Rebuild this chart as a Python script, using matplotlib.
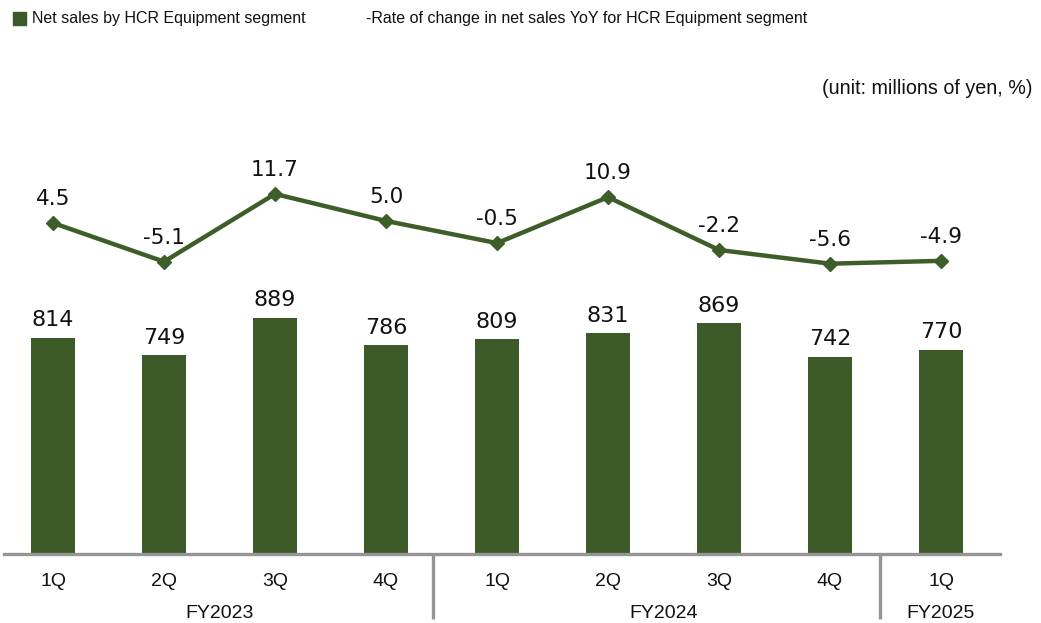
import matplotlib
matplotlib.use("Agg")
import matplotlib.pyplot as plt
from matplotlib.patches import Rectangle
import numpy as np

# Data
quarters = ["1Q", "2Q", "3Q", "4Q", "1Q", "2Q", "3Q", "4Q", "1Q"]
years = ["FY2023", "FY2024", "FY2025"]
year_spans = [(0, 3), (4, 7), (8, 8)]
net_sales = [814, 749, 889, 786, 809, 831, 869, 742, 770]
yoy_rate = [4.5, -5.1, 11.7, 5.0, -0.5, 10.9, -2.2, -5.6, -4.9]

W, H = 1041, 623
GREEN = "#3B5A27"
LINE_GREEN = "#3E5E29"
GRAY = "#959595"
TXT = "#111111"

fig = plt.figure(figsize=(W / 100, H / 100), dpi=100)

# axes placement in pixels
left_px, right_px, base_px, top_px = 4, 1000, 554, 60
ax = fig.add_axes([left_px / W, (H - base_px) / H,
                   (right_px - left_px) / W, (base_px - top_px) / H])
ax_h = base_px - top_px

x = np.arange(len(net_sales))
ax.set_xlim((left_px - 53) / 111, (right_px - 53) / 111)
ax.set_ylim(0, ax_h / 0.2655)

ax.bar(x, net_sales, width=0.39, color=GREEN, zorder=2)
for xi, v in zip(x, net_sales):
    ax.annotate(f"{v}", (xi, v), xytext=(0, 5.5), textcoords="offset points",
                ha="center", va="bottom", fontsize=16, family="DejaVu Sans",
                color=TXT)

for s in ["top", "right", "left"]:
    ax.spines[s].set_visible(False)
ax.spines["bottom"].set_color(GRAY)
ax.spines["bottom"].set_linewidth(2.4)
ax.set_yticks([])
ax.set_xticks([])

# line axis for YoY rate
ax2 = ax.twinx()
zero_px = 241.1
scale = 4.03
ax2.set_ylim(-(base_px - zero_px) / scale, (zero_px - top_px) / scale)
ax2.plot(x, yoy_rate, color=LINE_GREEN, lw=3.2, marker="D", markersize=7,
         zorder=3)
for xi, v in zip(x, yoy_rate):
    ax2.annotate(f"{v:.1f}", (xi, v), xytext=(0, 10), textcoords="offset points",
                 ha="center", va="bottom", fontsize=15.5, family="DejaVu Sans",
                 color=TXT)
ax2.axis("off")

# category labels
tr = ax.get_xaxis_transform()
for xi, q in zip(x, quarters):
    ax.text(xi, -(581 - base_px) / ax_h, q, transform=tr, ha="center",
            va="center", fontsize=14, family="Liberation Sans", color=TXT)
for (a, b), yr in zip(year_spans, years):
    ax.text((a + b) / 2, -(613 - base_px) / ax_h, yr, transform=tr,
            ha="center", va="center", fontsize=14, family="Liberation Sans",
            color=TXT)

# group separators
for sx in [3.42, 7.45]:
    ax.plot([sx, sx], [0, -(619 - base_px) / ax_h], transform=tr, color=GRAY,
            lw=2.4, clip_on=False, solid_capstyle="butt")

# legend and unit note
fig.patches.append(Rectangle((13 / W, 1 - 25 / H), 13 / W, 12.5 / H,
                             transform=fig.transFigure, color=GREEN))
fig.text(32 / W, 1 - 19 / H, "Net sales by HCR Equipment segment",
         ha="left", va="center", fontsize=11.5, family="Liberation Sans",
         color=TXT)
fig.text(366 / W, 1 - 19 / H,
         "-Rate of change in net sales YoY for HCR Equipment segment",
         ha="left", va="center", fontsize=11.5, family="Liberation Sans",
         color=TXT)
fig.text(1033 / W, 1 - 88 / H, "(unit: millions of yen, %)", ha="right",
         va="center", fontsize=14.2, family="Liberation Sans", color=TXT)

fig.savefig("out.png", dpi=100)
